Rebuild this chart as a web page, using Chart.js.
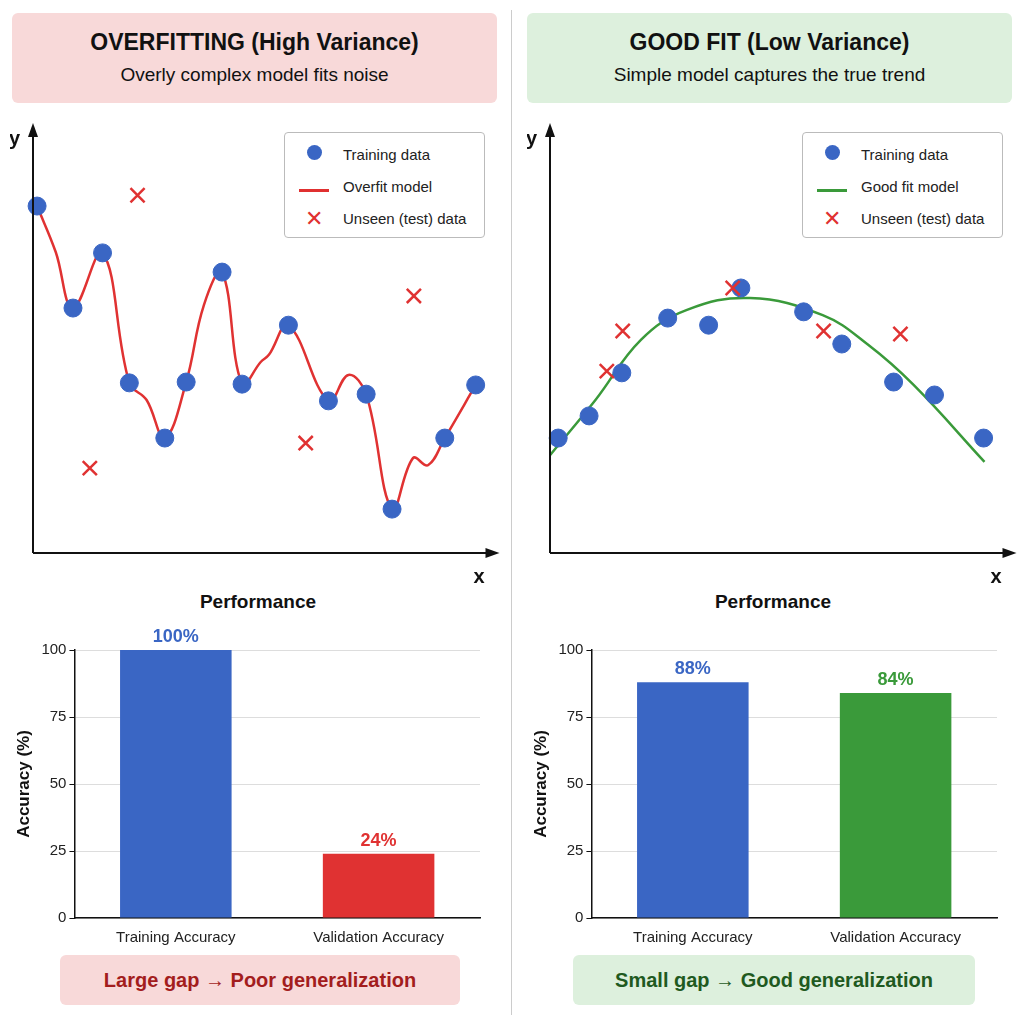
<!DOCTYPE html>
<html lang="en">
<head>
<meta charset="UTF-8">
<title>Overfitting vs Good Fit</title>
<style>
  body { margin: 0; width: 1024px; height: 1024px; background: #fff; font-family: "Liberation Sans", Arial, sans-serif; position: relative; overflow: hidden; }
  .abs { position: absolute; }
  .head { border-radius: 6px; text-align: center; box-sizing: border-box; padding-top: 16px; }
  .head h1 { margin: 0; font-size: 23px; font-weight: bold; color: #111; }
  .head p { margin: 8px 0 0; font-size: 19px; color: #111; }
  .foot { border-radius: 6px; text-align: center; font-weight: bold; font-size: 20px; line-height: 50px; }
  .perf { font-weight: bold; font-size: 19px; text-align: center; width: 300px; color: #111; }
  .legend { border: 1px solid #bbb; border-radius: 4px; background: #fff; font-size: 15px; color: #222; padding: 6px 12px; box-sizing: border-box; }
  .legend div { height: 32px; line-height: 32px; display: flex; align-items: center; }
  .sym { width: 34px; display: inline-block; text-align: center; margin-right: 12px; }
  .dot { display: inline-block; width: 15px; height: 15px; border-radius: 50%; background: #3a66c4; }
  .ln { display: inline-block; width: 30px; height: 3px; }
  .x { color: #e03030; font-size: 22px; }
  canvas { position: absolute; }
</style>
<script src="https://cdn.jsdelivr.net/npm/chart.js"></script>
</head>
<body>
<div class="abs head" style="left:12px;top:13px;width:485px;height:90px;background:#f8d9d9;">
  <h1>OVERFITTING (High Variance)</h1><p>Overly complex model fits noise</p>
</div>
<div class="abs head" style="left:527px;top:13px;width:485px;height:90px;background:#ddf0dd;">
  <h1>GOOD FIT (Low Variance)</h1><p>Simple model captures the true trend</p>
</div>
<div class="abs" style="left:511px;top:10px;width:1px;height:1005px;background:#ccc;"></div>

<canvas id="fitL" style="left:10px;top:120px;width:490px;height:470px;"></canvas>
<canvas id="fitR" style="left:527px;top:120px;width:490px;height:470px;"></canvas>

<div class="abs legend" style="left:284px;top:132px;width:201px;height:106px;">
  <div><span class="sym"><span class="dot"></span></span>Training data</div>
  <div><span class="sym"><span class="ln" style="background:#e03030"></span></span>Overfit model</div>
  <div><span class="sym x">✕</span>Unseen (test) data</div>
</div>
<div class="abs legend" style="left:802px;top:132px;width:201px;height:106px;">
  <div><span class="sym"><span class="dot"></span></span>Training data</div>
  <div><span class="sym"><span class="ln" style="background:#3a9a3a"></span></span>Good fit model</div>
  <div><span class="sym x">✕</span>Unseen (test) data</div>
</div>

<div class="abs perf" style="left:108px;top:591px;">Performance</div>
<div class="abs perf" style="left:623px;top:591px;">Performance</div>

<canvas id="barL" style="left:10px;top:620px;width:480px;height:330px;"></canvas>
<canvas id="barR" style="left:527px;top:620px;width:480px;height:330px;"></canvas>

<div class="abs foot" style="left:60px;top:955px;width:400px;height:50px;background:#f8d9d9;color:#a31d1d;">Large gap → Poor generalization</div>
<div class="abs foot" style="left:573px;top:955px;width:402px;height:50px;background:#ddf0dd;color:#1f5a1f;">Small gap → Good generalization</div>

<script>
// Overfitting panel
const overTrainX = [0.09, 0.88, 1.53, 2.12, 2.9, 3.37, 4.16, 4.6, 5.62, 6.5, 7.33, 7.9, 9.06, 9.74];
const overTrainY = [8.3, 5.86, 7.18, 4.07, 2.75, 4.09, 6.72, 4.04, 5.45, 3.64, 3.8, 1.05, 2.75, 4.02];
const overTestX = [2.3, 1.25, 6.0, 8.38];
const overTestY = [8.56, 2.03, 2.63, 6.15];
const overCurveX = [0.09, 0.5, 0.88, 1.53, 2.12, 2.5, 2.9, 3.37, 3.76, 4.16, 4.6, 5.01, 5.19, 5.62, 6.5, 6.94, 7.33, 7.9, 8.36, 8.69, 9.06, 9.74];
const overCurveY = [8.3, 7.2, 5.86, 7.18, 4.07, 3.66, 2.75, 4.09, 5.93, 6.72, 4.04, 4.57, 4.74, 5.45, 3.64, 4.26, 3.8, 1.05, 2.27, 2.1, 2.75, 4.02];

// Good fit panel
const goodTrainX = [0.18, 0.86, 1.58, 2.59, 3.49, 4.2, 5.58, 6.42, 7.56, 8.46, 9.54];
const goodTrainY = [2.75, 3.28, 4.31, 5.62, 5.45, 6.34, 5.77, 5.0, 4.09, 3.78, 2.75];
const goodTestX = [1.25, 1.6, 4.02, 6.02, 7.71];
const goodTestY = [4.35, 5.31, 6.34, 5.31, 5.24];
const goodCurveX = [0, 1.0, 2.0, 3.0, 4.4, 6.0, 7.0, 8.0, 9.56];
const goodCurveY = [2.34, 3.66, 5.1, 5.81, 6.1, 5.69, 4.98, 4.02, 2.18];

// Performance bars
const barLabels = ['Training Accuracy', 'Validation Accuracy'];
const overAcc = [100, 24];
const goodAcc = [88, 84];
const yTicks = [0, 25, 50, 75, 100];

const BLUE = '#3a66c4', RED = '#e03232', GREEN = '#3a9a3a';
const pts = (xs, ys) => xs.map((x, i) => ({ x: x, y: ys[i] }));

const axesArrows = {
  id: 'axesArrows',
  afterDraw(chart) {
    const c = chart.ctx, a = chart.chartArea;
    c.save();
    c.strokeStyle = '#111'; c.fillStyle = '#111'; c.lineWidth = 2;
    c.beginPath(); c.moveTo(a.left, a.bottom); c.lineTo(a.left, a.top - 2); c.stroke();
    c.beginPath(); c.moveTo(a.left, a.bottom); c.lineTo(a.right + 2, a.bottom); c.stroke();
    c.beginPath(); c.moveTo(a.left, a.top - 12); c.lineTo(a.left - 5, a.top + 2); c.lineTo(a.left + 5, a.top + 2); c.fill();
    c.beginPath(); c.moveTo(a.right + 12, a.bottom); c.lineTo(a.right - 2, a.bottom - 5); c.lineTo(a.right - 2, a.bottom + 5); c.fill();
    c.font = 'bold 20px "Liberation Sans", Arial';
    c.fillText('y', a.left - 24, a.top + 10);
    c.fillText('x', a.right - 14, a.bottom + 30);
    c.restore();
  }
};

function fitChart(id, trainX, trainY, testX, testY, curveX, curveY, curveColor) {
  new Chart(document.getElementById(id), {
    type: 'scatter',
    data: {
      datasets: [
        { data: pts(trainX, trainY), backgroundColor: BLUE, borderColor: BLUE, pointRadius: 9, pointHoverRadius: 9, order: 1 },
        { data: pts(testX, testY), pointStyle: 'cross', rotation: 45, borderColor: RED, borderWidth: 2.5, pointRadius: 10, order: 0 },
        { data: pts(curveX, curveY), showLine: true, pointRadius: 0, borderColor: curveColor, borderWidth: 2.5, tension: 0.4, order: 2 }
      ]
    },
    options: {
      responsive: false, animation: false, clip: false,
      layout: { padding: { left: 23, top: 15, right: 12, bottom: 37 } },
      plugins: { legend: { display: false }, tooltip: { enabled: false } },
      scales: {
        x: { display: false, min: 0, max: 10 },
        y: { display: false, min: 0, max: 10 }
      }
    },
    plugins: [axesArrows]
  });
}

const valueLabels = {
  id: 'valueLabels',
  afterDatasetsDraw(chart) {
    const c = chart.ctx, ds = chart.data.datasets[0];
    c.save();
    c.font = 'bold 18px "Liberation Sans", Arial';
    c.textAlign = 'center';
    chart.getDatasetMeta(0).data.forEach((bar, i) => {
      c.fillStyle = ds.labelColors[i];
      c.fillText(ds.data[i] + '%', bar.x, bar.y - 8);
    });
    c.restore();
  }
};

function barChart(id, values, colors) {
  new Chart(document.getElementById(id), {
    type: 'bar',
    data: { labels: barLabels, datasets: [{ data: values, backgroundColor: colors, labelColors: colors, barPercentage: 0.55, categoryPercentage: 1 }] },
    options: {
      responsive: false, animation: false,
      layout: { padding: { top: 30, right: 10 } },
      plugins: { legend: { display: false }, tooltip: { enabled: false } },
      scales: {
        x: { grid: { display: false }, border: { color: '#111', width: 1.5 }, ticks: { color: '#222', font: { size: 15 } } },
        y: {
          min: 0, max: 100, afterBuildTicks: ax => { ax.ticks = yTicks.map(v => ({ value: v })); },
          border: { color: '#111', width: 1.5 },
          grid: { color: '#ddd', drawTicks: true, tickColor: '#111', tickLength: 5 },
          ticks: { color: '#222', font: { size: 15 } },
          title: { display: true, text: 'Accuracy (%)', color: '#111', font: { size: 17, weight: 'bold' } }
        }
      }
    },
    plugins: [valueLabels, {
      id: 'dashGrid',
      beforeDraw(chart) { chart.options.scales.y.grid.borderDash = [4, 4]; }
    }]
  });
}

fitChart('fitL', overTrainX, overTrainY, overTestX, overTestY, overCurveX, overCurveY, RED);
fitChart('fitR', goodTrainX, goodTrainY, goodTestX, goodTestY, goodCurveX, goodCurveY, GREEN);
barChart('barL', overAcc, [BLUE, RED]);
barChart('barR', goodAcc, [BLUE, GREEN]);
</script>
</body>
</html>
